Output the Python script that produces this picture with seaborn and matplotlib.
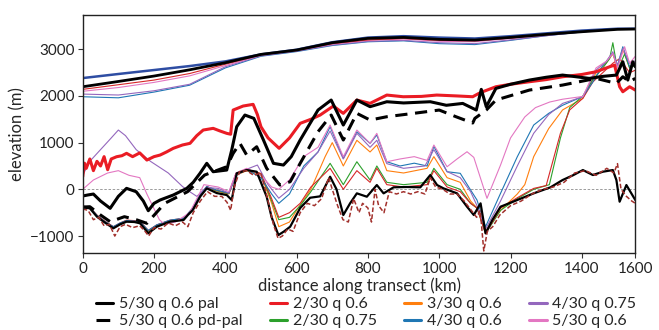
import matplotlib
matplotlib.use("Agg")
import matplotlib.pyplot as plt
import seaborn as sns
from matplotlib.lines import Line2D

# ---------------- data (km, elevation m) ----------------
surf_km = [0, 100, 200, 300, 400, 500, 600, 700, 800, 900, 1000, 1100, 1200, 1300, 1400, 1500, 1550]
surf_pal = [2197, 2310, 2426, 2560, 2711, 2890, 2983, 3140, 3233, 3254, 3212, 3197, 3254, 3319, 3375, 3426, 3433]
surf_blue_thick = [2383, 2470, 2555, 2640, 2740, 2890, 2990, 3150, 3250, 3280, 3250, 3230, 3280, 3340, 3400, 3440, 3440]
surf_red = [2141, 2240, 2340, 2480, 2680, 2880, 2975, 3120, 3200, 3230, 3190, 3180, 3240, 3310, 3380, 3430, 3435]
surf_pink = [2100, 2180, 2290, 2430, 2650, 2870, 2970, 3110, 3190, 3220, 3170, 3160, 3230, 3310, 3380, 3430, 3435]
surf_purple = [2040, 2020, 2111, 2250, 2625, 2860, 2960, 3090, 3170, 3190, 3140, 3120, 3200, 3290, 3370, 3430, 3435]
surf_blue = [1983, 1960, 2083, 2230, 2600, 2850, 2950, 3080, 3160, 3180, 3120, 3100, 3190, 3290, 3370, 3440, 3440]

red_km = [0, 5, 10, 20, 30, 40, 50, 60, 70, 80, 95, 110, 123, 140, 160, 180, 200, 217, 235, 254,
          280, 301, 320, 338, 366, 385, 404, 415, 422, 450, 478, 490, 500, 520, 551, 580, 610, 640, 666, 703,
          731, 769, 806, 853, 899, 950, 993, 1050, 1094, 1110, 1122, 1159, 1200, 1253, 1300, 1346, 1400, 1440, 1478, 1492,
          1506, 1515, 1534, 1550]
red_thick = [270, 560, 450, 650, 400, 600, 500, 700, 420, 650, 698, 720, 771, 700, 780, 627, 700, 734, 800, 878,
             950, 985, 1150, 1270, 1306, 1250, 1199, 1180, 1698, 1784, 1820, 1600, 1340, 1100, 878, 1100, 1413, 1500, 1591, 1784,
             1627, 1912, 1841, 2019, 1983, 1990, 2019, 2000, 1983, 2050, 2090, 2197, 2250, 2304, 2350, 2411, 2460, 2518, 2625, 2660,
             2197, 2090, 2197, 2126]

pal_km = [0, 15, 30, 50, 77, 100, 123, 150, 170, 184, 200, 217, 254, 292, 310, 329, 348, 366, 404, 418,
          432, 455, 480, 507, 535, 563, 585, 610, 660, 697, 731, 769, 806, 853, 900, 975, 1020, 1066, 1104, 1118,
          1132, 1159, 1200, 1253, 1300, 1346, 1421, 1460, 1497, 1515, 1529, 1543, 1550]
pal_mid = [-143, -120, -101, -250, -407, -150, 21, -51, -250, -458, -300, -229, -122, 21, 150, 343, 557, 377, 413, 842,
           1341, 1591, 1520, 1056, 557, 520, 700, 1056, 1698, 1912, 1377, 1912, 1770, 1876, 1850, 1876, 1800, 1840, 1698, 2141,
           1770, 2162, 2250, 2340, 2400, 2447, 2376, 2420, 2447, 2732, 2340, 2732, 2625]

pdpal_km = [0, 20, 50, 77, 117, 150, 180, 230, 294, 342, 404, 422, 441, 460, 488, 516, 553, 582, 610, 660,
            697, 731, 769, 806, 853, 928, 1000, 1047, 1094, 1100, 1132, 1159, 1253, 1346, 1440, 1497, 1515, 1534, 1550]
pdpal_mid = [-380, -372, -550, -693, -586, -650, -728, -300, -51, 306, 484, 770, 985, 734, 912, 450, 92, 163, 557, 1233,
             1591, 1056, 1627, 1484, 1555, 1627, 1698, 1555, 1420, 1520, 1698, 1912, 2126, 2233, 2376, 2269, 2411, 2304, 2376]

pink_km = [0, 30, 70, 100, 130, 160, 180, 215, 230, 260, 300, 340, 380, 410, 430, 460, 500, 530, 550, 580,
           620, 660, 694, 731, 769, 806, 825, 853, 890, 930, 966, 985, 1022, 1050, 1078, 1097, 1134, 1172, 1200, 1240,
           1270, 1310, 1346, 1403, 1440, 1470, 1487, 1500, 1520, 1534, 1550]
pink_mid = [0, 200, 350, 400, 300, 250, -100, -650, -750, -700, -500, 100, 50, -50, 350, 450, 300, 50, 0, 200,
            700, 900, 1377, 698, 1270, 985, 1199, 591, 650, 700, 620, 949, 484, 650, 805, 684, -193, 520, 1100, 1550,
            1750, 1870, 1930, 1990, 2600, 2750, 2911, 2600, 3054, 2700, 2850]

blue_km = [0, 20, 40, 60, 86, 105, 123, 145, 161, 184, 208, 245, 283, 295, 309, 330, 348, 376, 410, 430,
           460, 500, 530, 550, 580, 620, 660, 694, 731, 769, 806, 825, 853, 890, 930, 966, 985, 1022, 1059, 1088,
           1106, 1130, 1172, 1219, 1265, 1307, 1346, 1403, 1431, 1459, 1487, 1500, 1515, 1534, 1550]
blue_mid = [-360, -380, -560, -680, -800, -720, -670, -680, -700, -880, -760, -660, -620, -520, -400, -100, 60, -20, -80, 300,
            420, 250, -100, -300, -100, 500, 800, 1341, 662, 1234, 985, 1163, 591, 500, 560, 500, 920, 377, 343, -14,
            -229, -800, -86, 698, 1377, 1627, 1800, 1990, 2300, 2650, 2911, 2650, 3054, 2625, 2700]

purple_km = [0, 20, 50, 80, 100, 120, 150, 190, 240, 280, 300, 320, 348, 380, 410, 430, 460, 490, 520, 550,
             580, 620, 660, 694, 731, 769, 806, 825, 853, 900, 960, 985, 1022, 1059, 1088, 1106, 1130, 1172, 1219, 1265,
             1307, 1346, 1403, 1440, 1468, 1487, 1500, 1515, 1534, 1550]
purple_mid = [300, 600, 850, 1100, 1270, 1150, 850, 600, 350, 60, -50, -150, 40, 20, -80, 300, 430, 520, 100, -190,
              0, 450, 800, 1250, 650, 1200, 900, 1050, 550, 450, 500, 850, 380, 250, -50, -350, -850, -250, 500, 1200,
              1600, 1840, 1983, 2555, 2733, 2947, 2650, 3019, 2700, 2750]

orange_km = [0, 20, 40, 60, 86, 105, 123, 145, 161, 184, 208, 245, 283, 295, 309, 330, 348, 376, 410, 430,
             460, 500, 530, 550, 580, 600, 640, 680, 700, 731, 769, 806, 825, 853, 900, 966, 985, 1022, 1059, 1088,
             1106, 1130, 1172, 1219, 1240, 1265, 1307, 1346, 1403, 1440, 1468, 1487, 1500, 1515, 1534, 1550]
orange_mid = [-380, -400, -570, -690, -820, -740, -680, -690, -700, -900, -780, -670, -640, -540, -420, -130, 40, -40, -100, 300,
              400, 300, -300, -800, -700, -450, 0, 700, 1000, 500, 1050, 800, 950, 400, 350, 450, 700, 250, 150, -250,
              -400, -900, -450, -100, 100, 700, 1300, 1700, 1950, 2500, 2700, 2900, 2600, 3000, 2600, 2700]

green_km = [0, 20, 40, 60, 86, 105, 123, 145, 161, 184, 208, 245, 283, 295, 309, 330, 348, 376, 410, 430,
            460, 500, 530, 550, 580, 610, 640, 694, 731, 769, 806, 825, 853, 900, 966, 985, 1022, 1059, 1088, 1106,
            1130, 1172, 1219, 1265, 1309, 1340, 1366, 1403, 1431, 1459, 1478, 1487, 1497, 1506, 1520, 1534, 1550]
green_mid = [-370, -390, -560, -680, -810, -730, -670, -680, -700, -890, -770, -670, -630, -530, -410, -120, 50, -30, -90, 330,
             420, 330, -250, -650, -600, -350, -50, 557, 100, 591, 200, 500, 150, 100, 150, 450, 100, 0, -300, -400,
             -950, -450, -200, 0, 100, 1100, 1750, 2000, 2350, 2600, 2800, 3140, 2700, 2650, 2900, 2600, 2650]

redthin_km = [0, 20, 40, 60, 86, 105, 123, 145, 161, 184, 208, 245, 283, 295, 309, 330, 348, 376, 410, 430,
              460, 500, 530, 550, 580, 610, 640, 694, 731, 769, 806, 825, 853, 900, 966, 985, 1022, 1059, 1088, 1106,
              1130, 1172, 1219, 1265, 1300, 1340, 1366, 1403, 1431, 1459, 1487, 1506, 1520, 1534, 1550]
redthin_mid = [-360, -380, -550, -670, -800, -720, -660, -670, -690, -880, -760, -660, -620, -520, -400, -110, 60, -20, -80, 340,
               430, 340, -200, -600, -500, -300, 50, 450, 0, 400, 150, 450, 100, 50, 100, 400, 50, -50, -300, -400,
               -950, -400, -180, 20, 80, 1200, 1700, 1950, 2300, 2500, 2700, 2800, 2650, 2500, 2550]

bed_km = [0, 20, 40, 60, 86, 105, 123, 145, 161, 184, 208, 245, 283, 295, 309, 330, 348, 376, 404, 418,
          432, 460, 488, 516, 530, 549, 565, 582, 610, 638, 666, 694, 712, 731, 750, 769, 797, 825, 844, 872,
          909, 947, 975, 994, 1012, 1050, 1078, 1097, 1116, 1130, 1149, 1172, 1219, 1265, 1312, 1346, 1375, 1403, 1431, 1459,
          1487, 1497, 1506, 1525, 1550]
bed_pal = [-386, -407, -586, -700, -835, -750, -693, -700, -728, -942, -800, -693, -657, -550, -443, -150, 21, -80, -122, -229,
           343, 413, 377, -158, -600, -979, -900, -800, -400, -180, -150, 270, 0, -550, -300, -86, -158, 92, -86, 43,
           50, 43, 306, 92, 21, -86, -372, -550, -300, -942, -657, -372, -229, -86, 43, 199, 300, 413, 306, 377,
           413, 199, -265, 92, -229]

pd_km = [0, 15, 30, 45, 60, 75, 90, 105, 120, 140, 160, 175, 185, 200, 220, 240, 260, 280, 295, 310,
         330, 350, 370, 390, 405, 415, 425, 440, 460, 480, 500, 520, 535, 548, 560, 575, 590, 610, 630, 650,
         670, 690, 700, 715, 730, 745, 760, 775, 785, 800, 810, 820, 830, 845, 860, 880, 900, 920, 940, 960,
         975, 990, 1010, 1030, 1050, 1070, 1090, 1105, 1115, 1125, 1135, 1150, 1170, 1200, 1230, 1260, 1290, 1320, 1350, 1380,
         1410, 1440, 1470, 1490, 1500, 1510, 1525, 1540, 1550]
pd_bed = [-420, -450, -650, -600, -780, -750, -1000, -800, -750, -820, -780, -900, -1000, -820, -850, -720, -780, -700, -800, -500,
          -250, -50, -150, -150, -280, -450, 50, 380, 400, 300, 350, -250, -750, -1050, -1000, -850, -900, -500, -300, -350,
          -200, 250, 0, -350, -650, -700, -200, -500, -300, -400, -700, 0, -350, -500, -50, -100, -50, -100, -50, -100,
          250, 50, 0, -100, -100, -250, -450, -600, -450, -1320, -900, -800, -550, -350, -250, -100, 0, 50, 150, 350,
          400, 300, 450, 350, 550, 0, -150, -250, -300]

xtick_pos = [0, 200, 400, 600, 800, 1000, 1200, 1400, 1550]
xtick_labels = ["0", "200", "400", "600", "800", "1000", "1200", "1400", "1600"]
ytick_vals = [-1000, 0, 1000, 2000, 3000]

legend_labels = ["5/30 q 0.6 pal", "5/30 q 0.6 pd-pal", "2/30 q 0.6", "2/30 q 0.75",
                 "3/30 q 0.6", "4/30 q 0.6", "4/30 q 0.75", "5/30 q 0.6"]

# ---------------- styling ----------------
sns.set_style("ticks")
plt.rcParams["font.family"] = ["Lato", "DejaVu Sans"]
plt.rcParams["axes.unicode_minus"] = True

C_RED = "#ea1c24"
C_BLUE_THICK = "#2e4da3"
C_BROWN = "#a2302c"
C_OR, C_GR, C_RD, C_PU, C_BL, C_PK = "#ff7f0e", "#2ca02c", "#d62728", "#9467bd", "#1f77b4", "#e377c2"

fig = plt.figure(figsize=(6.59, 3.30), dpi=100)
ax = fig.add_axes([82.7 / 659, 1 - 253.3 / 330, (635.3 - 82.7) / 659, (253.3 - 14.7) / 330])

def line(x, y, **kw):
    sns.lineplot(x=x, y=y, ax=ax, estimator=None, sort=False, **kw)

ax.axhline(0, color="0.55", ls=(0, (3, 2)), lw=0.6, zorder=1)

# thin surfaces
line(surf_km, surf_blue, color=C_BL, lw=0.8)
line(surf_km, surf_purple, color=C_PU, lw=0.8)
line(surf_km, surf_pink, color=C_PK, lw=0.8)
line(surf_km, surf_red, color=C_RD, lw=0.8)
line(surf_km, surf_blue_thick, color=C_BLUE_THICK, lw=1.8)
line(surf_km, surf_pal, color="black", lw=2.0)

# thin experiment lines
line(orange_km, orange_mid, color=C_OR, lw=0.8)
line(green_km, green_mid, color=C_GR, lw=0.8)
line(redthin_km, redthin_mid, color=C_RD, lw=0.8)
line(blue_km, blue_mid, color=C_BL, lw=0.8)
line(purple_km, purple_mid, color=C_PU, lw=0.8)
line(pink_km, pink_mid, color=C_PK, lw=0.8)

# beds
line(bed_km, bed_pal, color="black", lw=1.6)
line(pd_km, pd_bed, color=C_BROWN, lw=1.1, linestyle=(0, (3, 1.5)))

# thick mid lines
line(red_km, red_thick, color=C_RED, lw=2.2)
line(pal_km, pal_mid, color="black", lw=2.2)
line(pdpal_km, pdpal_mid, color="black", lw=2.2, linestyle=(0, (4, 2.5)))

ax.set_xlim(0, 1550)
ax.set_ylim(-1370, 3740)
ax.set_xticks(xtick_pos)
ax.set_xticklabels(xtick_labels)
ax.set_yticks(ytick_vals)
ax.tick_params(labelsize=11, length=3.5, width=0.8, colors="#333333", labelcolor="#222222", pad=2.5)
for s in ax.spines.values():
    s.set_linewidth(1.0)
    s.set_color("#222222")
ax.set_xlabel("distance along transect (km)", fontsize=12, labelpad=1.5)
ax.set_ylabel("elevation (m)", fontsize=12, labelpad=3)

handles = [
    Line2D([], [], color="black", lw=2.2),
    Line2D([], [], color="black", lw=2.2, linestyle=(0, (4.5, 10))),
    Line2D([], [], color=C_RED, lw=2.2),
    Line2D([], [], color=C_GR, lw=2.2),
    Line2D([], [], color=C_OR, lw=2.2),
    Line2D([], [], color=C_BL, lw=2.2),
    Line2D([], [], color=C_PU, lw=2.2),
    Line2D([], [], color=C_PK, lw=2.2),
]
fig.legend(handles, legend_labels, loc="upper center", bbox_to_anchor=(366 / 659, 1 - 297 / 330),
           ncol=4, frameon=False, fontsize=11.5, handlelength=1.1, handletextpad=0.35,
           columnspacing=1.7, labelspacing=0.18, borderaxespad=0, borderpad=0)

fig.savefig("out.png", dpi=100)
